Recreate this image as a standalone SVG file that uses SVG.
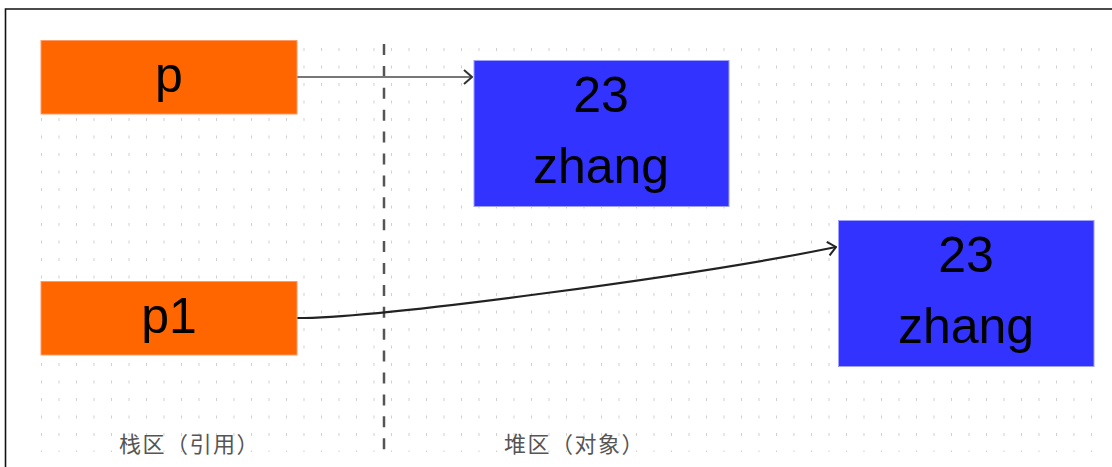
<svg xmlns="http://www.w3.org/2000/svg" width="1112" height="467" viewBox="0 0 1112 467">
  <style>
    .stack { fill: #FF6600; stroke: #FF9A66; stroke-width: 1; }
    .heap { fill: #3333FF; stroke: #A0A0FF; stroke-width: 1; }
    .big { font-family: "Liberation Sans", Arial, sans-serif; font-size: 50px; fill: #000; text-anchor: middle; }
    .zone { font-family: "Noto Sans CJK SC", "Noto Sans", sans-serif; font-size: 22px; fill: #555; letter-spacing: 1.5px; }
    .conn { fill: none; stroke-width: 2.2; }
  </style>
  <defs>
    <pattern id="grid" x="41" y="48" width="17.5" height="17.5" patternUnits="userSpaceOnUse">
      <rect x="0" y="0" width="1" height="3" fill="#cfcfcf"/>
    </pattern>
    <marker id="arrGray" viewBox="0 0 10 16" refX="9" refY="8" markerWidth="10" markerHeight="16" markerUnits="userSpaceOnUse" orient="auto">
      <path d="M1,1 L9,8 L1,15" fill="none" stroke="#333" stroke-width="2"/>
    </marker>
    <marker id="arrDark" viewBox="0 0 10 16" refX="9" refY="8" markerWidth="10" markerHeight="16" markerUnits="userSpaceOnUse" orient="auto">
      <path d="M1,1 L9,8 L1,15" fill="none" stroke="#222" stroke-width="2"/>
    </marker>
  </defs>

  <rect x="0" y="0" width="1112" height="467" fill="#fff"/>
  <rect x="40" y="46" width="1060" height="406" fill="url(#grid)"/>
  <path d="M1112,9 H5.5 V467" fill="none" stroke="#111" stroke-width="1.6"/>

  <line x1="384" y1="44" x2="384" y2="451" stroke="#555" stroke-width="2.5" stroke-dasharray="11 10.9"/>

  <g id="connectors">
    <line class="conn" x1="297" y1="77" x2="472" y2="77" stroke="#777" stroke-width="2.6" marker-end="url(#arrGray)"/>
    <path class="conn" d="M297,318 C380,318 700,275 836,247" stroke="#222" marker-end="url(#arrDark)"/>
  </g>

  <g id="node-p">
    <rect class="stack" x="41" y="40.5" width="256" height="73.5"/>
    <text class="big" x="169" y="92">p</text>
  </g>
  <g id="node-p1">
    <rect class="stack" x="41" y="281.5" width="256" height="73.5"/>
    <text class="big" x="169" y="333">p1</text>
  </g>
  <g id="node-obj1">
    <rect class="heap" x="474" y="60.5" width="255" height="146"/>
    <text class="big" x="601" y="111.5">23</text>
    <text class="big" x="601" y="183">zhang</text>
  </g>
  <g id="node-obj2">
    <rect class="heap" x="838.5" y="220.5" width="255.5" height="146"/>
    <text class="big" x="966" y="271.5">23</text>
    <text class="big" x="966" y="343">zhang</text>
  </g>

  <g id="label-stack">
    <text class="zone" x="119" y="452">栈区（引用）</text>
  </g>
  <g id="label-heap">
    <text class="zone" x="504" y="452">堆区（对象）</text>
  </g>
</svg>
